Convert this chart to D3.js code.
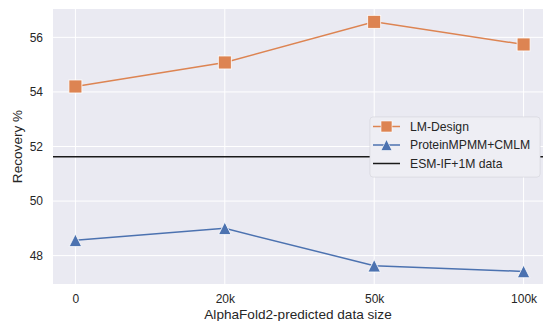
<!DOCTYPE html>
<html>
<head>
<meta charset="utf-8">
<script src="https://cdn.jsdelivr.net/npm/d3@7"></script>
<style>
  html, body { margin: 0; padding: 0; background: #fff; }
  svg { display: block; font-family: "Liberation Sans", Arial, sans-serif; }
</style>
</head>
<body>
<svg id="chart" width="543" height="321"></svg>
<script>
// Recovery vs. amount of AlphaFold2-predicted training data
const categories = ["0", "20k", "50k", "100k"];
const lmDesign = [54.2, 55.08, 56.57, 55.74];
const proteinMPMM = [48.56, 49.0, 47.63, 47.42];
const esmIfBaseline = 51.62;
const yTicks = [48, 50, 52, 54, 56];
const seriesNames = ["LM-Design", "ProteinMPMM+CMLM", "ESM-IF+1M data"];

const svg = d3.select("#chart");
const W = 543, H = 321;
const m = { left: 53, right: 0, top: 9, bottom: 37 };
const plotRight = 546;

const x = d3.scaleLinear()
  .domain([-0.15, categories.length - 1 + 0.15])
  .range([m.left, plotRight]);
const y = d3.scaleLinear()
  .domain([46.96, 57.04])
  .range([H - m.bottom, m.top]);

// upward triangle with equal width and height, centred on its bounding box
const triPath = s => {
  const h = s / 2;
  return `M0,${-h}L${h},${h}L${-h},${h}Z`;
};

// background panel
svg.append("rect")
  .attr("x", m.left).attr("y", m.top)
  .attr("width", plotRight - m.left).attr("height", H - m.bottom - m.top)
  .attr("fill", "#eaeaf2");

// grid
const grid = svg.append("g");
grid.selectAll("line.h").data(yTicks).join("line")
  .attr("x1", m.left).attr("x2", plotRight)
  .attr("y1", d => y(d)).attr("y2", d => y(d))
  .attr("stroke", "#fff").attr("stroke-width", 1);
grid.selectAll("line.v").data(categories).join("line")
  .attr("x1", (d, i) => x(i)).attr("x2", (d, i) => x(i))
  .attr("y1", m.top).attr("y2", H - m.bottom)
  .attr("stroke", "#fff").attr("stroke-width", 1);

// axes (labels only)
const yAxis = svg.append("g")
  .attr("transform", `translate(${m.left},0)`)
  .call(d3.axisLeft(y).tickValues(yTicks).tickSize(0).tickPadding(10).tickFormat(d3.format("d")));
yAxis.select(".domain").remove();
yAxis.selectAll("text").attr("font-size", 12).attr("fill", "#262626")
  .attr("font-family", "Liberation Sans, Arial, sans-serif");

const xAxis = svg.append("g")
  .attr("transform", `translate(0,${H - m.bottom})`)
  .call(d3.axisBottom(x).tickValues(d3.range(categories.length)).tickSize(0).tickPadding(10)
    .tickFormat(i => categories[i]));
xAxis.select(".domain").remove();
xAxis.selectAll("text").attr("font-size", 12).attr("fill", "#262626")
  .attr("font-family", "Liberation Sans, Arial, sans-serif");

// axis titles
svg.append("text")
  .attr("x", 298).attr("y", 319)
  .attr("text-anchor", "middle").attr("font-size", 13.6).attr("fill", "#262626")
  .text("AlphaFold2-predicted data size");
svg.append("text")
  .attr("transform", `translate(22,${(m.top + H - m.bottom) / 2}) rotate(-90)`)
  .attr("text-anchor", "middle").attr("font-size", 13.6).attr("fill", "#262626")
  .text("Recovery %");

const plot = svg.append("g");
const line = d3.line().x((d, i) => x(i)).y(d => y(d));

// baseline
plot.append("line")
  .attr("x1", m.left).attr("x2", plotRight)
  .attr("y1", y(esmIfBaseline)).attr("y2", y(esmIfBaseline))
  .attr("stroke", "#1a1a1a").attr("stroke-width", 1.5);

const orange = "#dd8452", blue = "#4c72b0";

plot.append("path").datum(lmDesign).attr("d", line)
  .attr("fill", "none").attr("stroke", orange).attr("stroke-width", 1.5);
plot.append("path").datum(proteinMPMM).attr("d", line)
  .attr("fill", "none").attr("stroke", blue).attr("stroke-width", 1.5);

const sq = 13;
plot.selectAll("rect.lm").data(lmDesign).join("rect")
  .attr("x", (d, i) => x(i) - sq / 2).attr("y", d => y(d) - sq / 2)
  .attr("width", sq).attr("height", sq)
  .attr("fill", orange).attr("stroke", "#fff").attr("stroke-width", 0.8);

plot.selectAll("path.pm").data(proteinMPMM).join("path")
  .attr("d", triPath(12.5))
  .attr("transform", (d, i) => `translate(${x(i)},${y(d)})`)
  .attr("fill", blue).attr("stroke", "#fff").attr("stroke-width", 0.8);

// legend
const lg = svg.append("g").attr("transform", "translate(370,117)");
lg.append("rect")
  .attr("x", 0).attr("y", 0).attr("width", 170).attr("height", 60).attr("rx", 3)
  .attr("fill", "#eaeaf2").attr("fill-opacity", 1)
  .attr("stroke", "#d4d4dc").attr("stroke-width", 0.8);
lg.append("rect")
  .attr("x", 0).attr("y", 0).attr("width", 170).attr("height", 60).attr("rx", 3)
  .attr("fill", "#fff").attr("fill-opacity", 0.2);
const rows = [
  { name: seriesNames[0], color: orange, marker: "square" },
  { name: seriesNames[1], color: blue, marker: "triangle" },
  { name: seriesNames[2], color: "#1a1a1a", marker: null }
];
rows.forEach((r, i) => {
  const cy = 9.5 + i * 18.5;
  const g = lg.append("g").attr("transform", `translate(0,${cy})`);
  g.append("line").attr("x1", 3).attr("x2", 30).attr("y1", 0).attr("y2", 0)
    .attr("stroke", r.color).attr("stroke-width", 1.5);
  if (r.marker === "square") {
    g.append("rect").attr("x", 16.5 - 5.5).attr("y", -5.5).attr("width", 11).attr("height", 11)
      .attr("fill", r.color).attr("stroke", "#fff").attr("stroke-width", 0.6);
  } else if (r.marker === "triangle") {
    g.append("path").attr("d", triPath(11))
      .attr("transform", "translate(16.5,0)")
      .attr("fill", r.color).attr("stroke", "#fff").attr("stroke-width", 0.6);
  }
  g.append("text").attr("x", 40).attr("y", 4.3).attr("font-size", 12.2).attr("fill", "#262626")
    .text(r.name);
});
</script>
</body>
</html>
